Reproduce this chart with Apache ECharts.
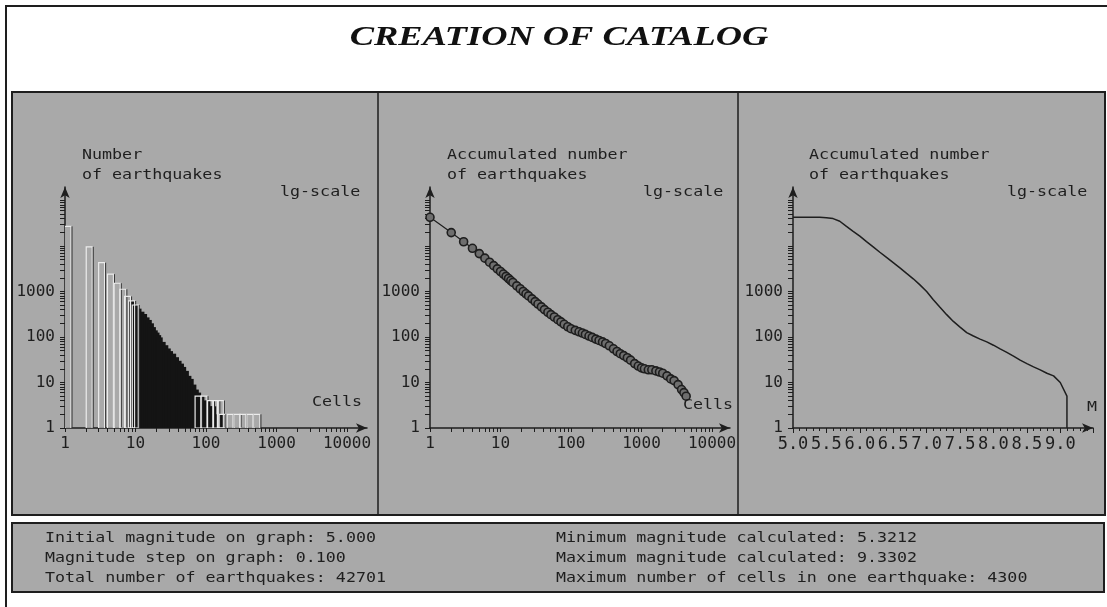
<!DOCTYPE html>
<html>
<head>
<meta charset="utf-8">
<script src="https://cdn.jsdelivr.net/npm/echarts@6/dist/echarts.min.js"></script>
<style>
html,body{margin:0;padding:0;background:#ffffff;}
#c{width:1107px;height:607px;}
</style>
</head>
<body>
<div id="c"></div>
<script>
// ---------- DATA ----------
// Panel 1: histogram, number of earthquakes vs number of cells (lg-lg)
const histCellsOutlined = [1, 2, 3, 4, 5, 6, 7, 8, 9, 70, 85, 105, 125, 145, 153, 199, 250, 303, 382, 478];
const histCountOutlined = [27000, 9600, 4300, 2400, 1520, 1120, 780, 620, 505, 5, 5, 4, 4, 4, 2, 2, 2, 2, 2, 2];
const histCellsDense = [8, 9, 10, 11, 12, 13, 14, 15, 16, 17, 18, 19, 20, 22, 24, 26, 28, 31, 34, 37, 40, 43, 47, 51, 55, 60, 65, 70, 78, 86, 95, 105, 115, 130, 145, 158];
const histCountDense = [620, 505, 420, 360, 320, 270, 237, 200, 165, 140, 125, 110, 98, 78, 66, 56, 49, 43, 36, 30, 26, 22, 18, 14, 12, 9, 7, 6, 5, 4, 4, 3, 3, 2, 2, 2];

// Panel 2: accumulated number of earthquakes vs cells (lg-lg)
const cumCells = [1, 2, 3, 4, 5, 6, 7, 8, 9, 10, 11, 12, 13, 14, 15, 17, 19, 21, 23, 25, 28, 31, 34, 38, 42, 47, 52, 58, 65, 72, 80, 90, 100, 115, 130, 145, 160, 180, 200, 225, 250, 280, 310, 350, 400, 450, 500, 560, 630, 700, 800, 900, 1000, 1100, 1250, 1400, 1600, 1800, 2000, 2300, 2600, 2900, 3300, 3700, 4000, 4300];
const cumCount = [42701, 19700, 12400, 8900, 6800, 5400, 4400, 3700, 3150, 2750, 2420, 2150, 1930, 1740, 1580, 1330, 1150, 1000, 890, 800, 690, 600, 530, 460, 400, 350, 310, 275, 240, 215, 190, 168, 152, 140, 130, 122, 114, 105, 98, 90, 84, 78, 72, 64, 55, 48, 43, 39, 35, 31, 26, 23, 21, 20, 19, 19, 18, 17, 16, 14, 12, 11, 9, 7, 6, 5];

// Panel 3: accumulated number of earthquakes vs magnitude M (lg y)
const magValues = [5.0, 5.1, 5.2, 5.3, 5.4, 5.5, 5.6, 5.7, 5.8, 5.9, 6.0, 6.1, 6.2, 6.3, 6.4, 6.5, 6.6, 6.7, 6.8, 6.9, 7.0, 7.1, 7.2, 7.3, 7.4, 7.5, 7.6, 7.7, 7.8, 7.9, 8.0, 8.1, 8.2, 8.3, 8.4, 8.5, 8.6, 8.7, 8.8, 8.9, 9.0, 9.1, 9.1];
const magCount = [42701, 42701, 42701, 42701, 42701, 42000, 40000, 35000, 27000, 21000, 16500, 12500, 9600, 7300, 5600, 4300, 3300, 2500, 1900, 1400, 1000, 660, 450, 310, 220, 165, 125, 105, 90, 78, 66, 55, 46, 38, 31, 26, 22, 19, 16, 14, 10, 5, 1];

// Tick labels
const yTickLabels = [1, 10, 100, 1000];
const xTickLabelsCells = [1, 10, 100, 1000, 10000];

// Texts
const titleText = 'CREATION OF CATALOG';
const panelYNames = [['Number', 'of earthquakes'], ['Accumulated number', 'of earthquakes'], ['Accumulated number', 'of earthquakes']];
const scaleNote = 'lg-scale';
const panelXNames = ['Cells', 'Cells', 'M'];
const infoLeft = ['Initial magnitude on graph: 5.000', 'Magnitude step on graph: 0.100', 'Total number of earthquakes: 42701'];
const infoRight = ['Minimum magnitude calculated: 5.3212', 'Maximum magnitude calculated: 9.3302', 'Maximum number of cells in one earthquake: 4300'];

// ---------- STYLE / LAYOUT ----------
const INK = '#1e1e1e';
const PANEL = '#a9a9a9';
const MONO = 'DejaVu Sans Mono';
const Y_MAX = 198000;
const X_MAX_1 = 19200;
const X_MAX_2 = 18000;
const M_MIN = 5.0, M_MAX = 9.49;

// logarithmic tick positions (1..9 x 10^k) for the lg-scale axes
function logTicks(maxExp) {
  const out = [];
  for (let e = 0; e <= maxExp; e++) {
    for (let m = 1; m <= 9; m++) out.push(m * Math.pow(10, e));
  }
  return out;
}

function logXAxis(gridIndex, max) {
  return {
    type: 'log', logBase: 10, gridIndex: gridIndex, min: 1, max: max,
    axisLine: { show: true, lineStyle: { color: INK, width: 1.5 }, symbol: ['none', 'arrow'], symbolSize: [7, 11] },
    axisTick: { show: true, length: 4, lineStyle: { color: INK }, customValues: logTicks(4).filter(v => v <= max) },
    splitLine: { show: false },
    axisLabel: { margin: 8, color: INK, fontFamily: MONO, fontSize: 16, customValues: xTickLabelsCells,
      formatter: v => String(Math.round(v)) }
  };
}
function logYAxis(gridIndex) {
  return {
    type: 'log', logBase: 10, gridIndex: gridIndex, min: 1, max: Y_MAX,
    axisLine: { show: true, lineStyle: { color: INK, width: 1.5 }, symbol: ['none', 'arrow'], symbolSize: [7, 11] },
    axisTick: { show: true, length: 5, lineStyle: { color: INK }, customValues: logTicks(5).filter(v => v <= Y_MAX) },
    splitLine: { show: false },
    axisLabel: { margin: 10, color: INK, fontFamily: MONO, fontSize: 16, customValues: yTickLabels,
      formatter: v => String(Math.round(v)) }
  };
}

function outlinedBar(params, api) {
  const top = api.coord([api.value(0), api.value(1)]);
  const base = api.coord([api.value(0), 1]);
  const w = 6;
  return {
    type: 'group',
    children: [
      { type: 'rect', shape: { x: top[0], y: top[1], width: w, height: base[1] - top[1] },
        style: { fill: 'rgba(0,0,0,0)', stroke: '#ececec', lineWidth: 1.2 } },
      { type: 'line', shape: { x1: top[0] + w + 1, y1: top[1], x2: top[0] + w + 1, y2: base[1] },
        style: { stroke: '#303030', lineWidth: 1 } }
    ]
  };
}
function denseBar(params, api) {
  const top = api.coord([api.value(0), api.value(1)]);
  const base = api.coord([api.value(0), 1]);
  return { type: 'rect', shape: { x: top[0], y: top[1], width: 6, height: base[1] - top[1] },
    style: { fill: '#141414' } };
}

function txt(x, y, s, extra) {
  return Object.assign({
    type: 'text', x: x, y: y, scaleX: 1.19, z: 20,
    style: { text: s, fill: INK, font: '14px "' + MONO + '"', textVerticalAlign: 'middle', verticalAlign: 'middle', textAlign: 'left', align: 'left' }
  }, extra || {});
}

const graphics = [
  { type: 'polyline', z: -20, shape: { points: [[6, 607], [6, 6], [1107, 6]] }, style: { stroke: INK, lineWidth: 2, fill: null } },
  { type: 'rect', z: -20, shape: { x: 12, y: 92, width: 1093, height: 423 }, style: { fill: PANEL, stroke: INK, lineWidth: 2 } },
  { type: 'line', z: -19, shape: { x1: 378, y1: 92, x2: 378, y2: 515 }, style: { stroke: INK, lineWidth: 1.5 } },
  { type: 'line', z: -19, shape: { x1: 738, y1: 92, x2: 738, y2: 515 }, style: { stroke: INK, lineWidth: 1.5 } },
  { type: 'rect', z: -20, shape: { x: 12, y: 523, width: 1092, height: 69 }, style: { fill: PANEL, stroke: INK, lineWidth: 2 } },
  { type: 'text', x: 559, y: 38, scaleX: 1.3, z: 20,
    style: { text: titleText, fill: '#111', font: 'italic bold 28px "Liberation Serif"', textAlign: 'center', align: 'center', textVerticalAlign: 'middle', verticalAlign: 'middle' } }
];
const nameX = [82, 447, 809];
const noteX = [280, 643, 1007];
const xNameX = [312, 683, 1087];
const xNameY = [402, 405, 407];
for (let i = 0; i < 3; i++) {
  graphics.push(txt(nameX[i], 155, panelYNames[i][0]));
  graphics.push(txt(nameX[i], 175, panelYNames[i][1]));
  graphics.push(txt(noteX[i], 192, scaleNote));
  graphics.push(txt(xNameX[i], xNameY[i], panelXNames[i]));
}
for (let i = 0; i < 3; i++) {
  graphics.push(txt(45, 538 + 20 * i, infoLeft[i]));
  graphics.push(txt(556, 538 + 20 * i, infoRight[i]));
}

const option = {
  animation: false,
  backgroundColor: '#ffffff',
  grid: [
    { left: 65, top: 187, width: 302, height: 241 },
    { left: 430, top: 187, width: 300, height: 241 },
    { left: 793, top: 187, width: 300, height: 241 }
  ],
  xAxis: [
    logXAxis(0, X_MAX_1),
    logXAxis(1, X_MAX_2),
    {
      type: 'value', gridIndex: 2, min: M_MIN, max: M_MAX, interval: 0.5,
      axisLine: { show: true, lineStyle: { color: INK, width: 1.5 }, symbol: ['none', 'arrow'], symbolSize: [7, 11] },
      axisTick: { show: true, length: 5, lineStyle: { color: INK } },
      minorTick: { show: true, splitNumber: 5, length: 3, lineStyle: { color: INK } },
      splitLine: { show: false }, minorSplitLine: { show: false },
      axisLabel: { margin: 8, color: INK, fontFamily: MONO, fontSize: 17, showMaxLabel: false,
        formatter: v => v.toFixed(1) }
    }
  ],
  yAxis: [logYAxis(0), logYAxis(1), logYAxis(2)],
  graphic: { elements: graphics },
  series: [
    { type: 'custom', xAxisIndex: 0, yAxisIndex: 0, renderItem: denseBar, clip: true,
      data: histCellsDense.map((c, i) => [c, histCountDense[i]]), encode: { x: 0, y: 1 } },
    { type: 'custom', xAxisIndex: 0, yAxisIndex: 0, renderItem: outlinedBar, clip: true,
      data: histCellsOutlined.map((c, i) => [c, histCountOutlined[i]]), encode: { x: 0, y: 1 } },
    { type: 'line', xAxisIndex: 1, yAxisIndex: 1,
      data: cumCells.map((c, i) => [c, cumCount[i]]),
      symbol: 'circle', symbolSize: 8, showSymbol: true,
      itemStyle: { color: '#6e6e6e', borderColor: INK, borderWidth: 1.6 },
      lineStyle: { color: INK, width: 1.2 } },
    { type: 'line', xAxisIndex: 2, yAxisIndex: 2,
      data: magValues.map((m, i) => [m, magCount[i]]),
      showSymbol: false, symbol: 'none',
      lineStyle: { color: INK, width: 1.5 } }
  ]
};

const chart = echarts.init(document.getElementById('c'), null, { renderer: 'canvas' });
chart.setOption(option);
</script>
</body>
</html>
